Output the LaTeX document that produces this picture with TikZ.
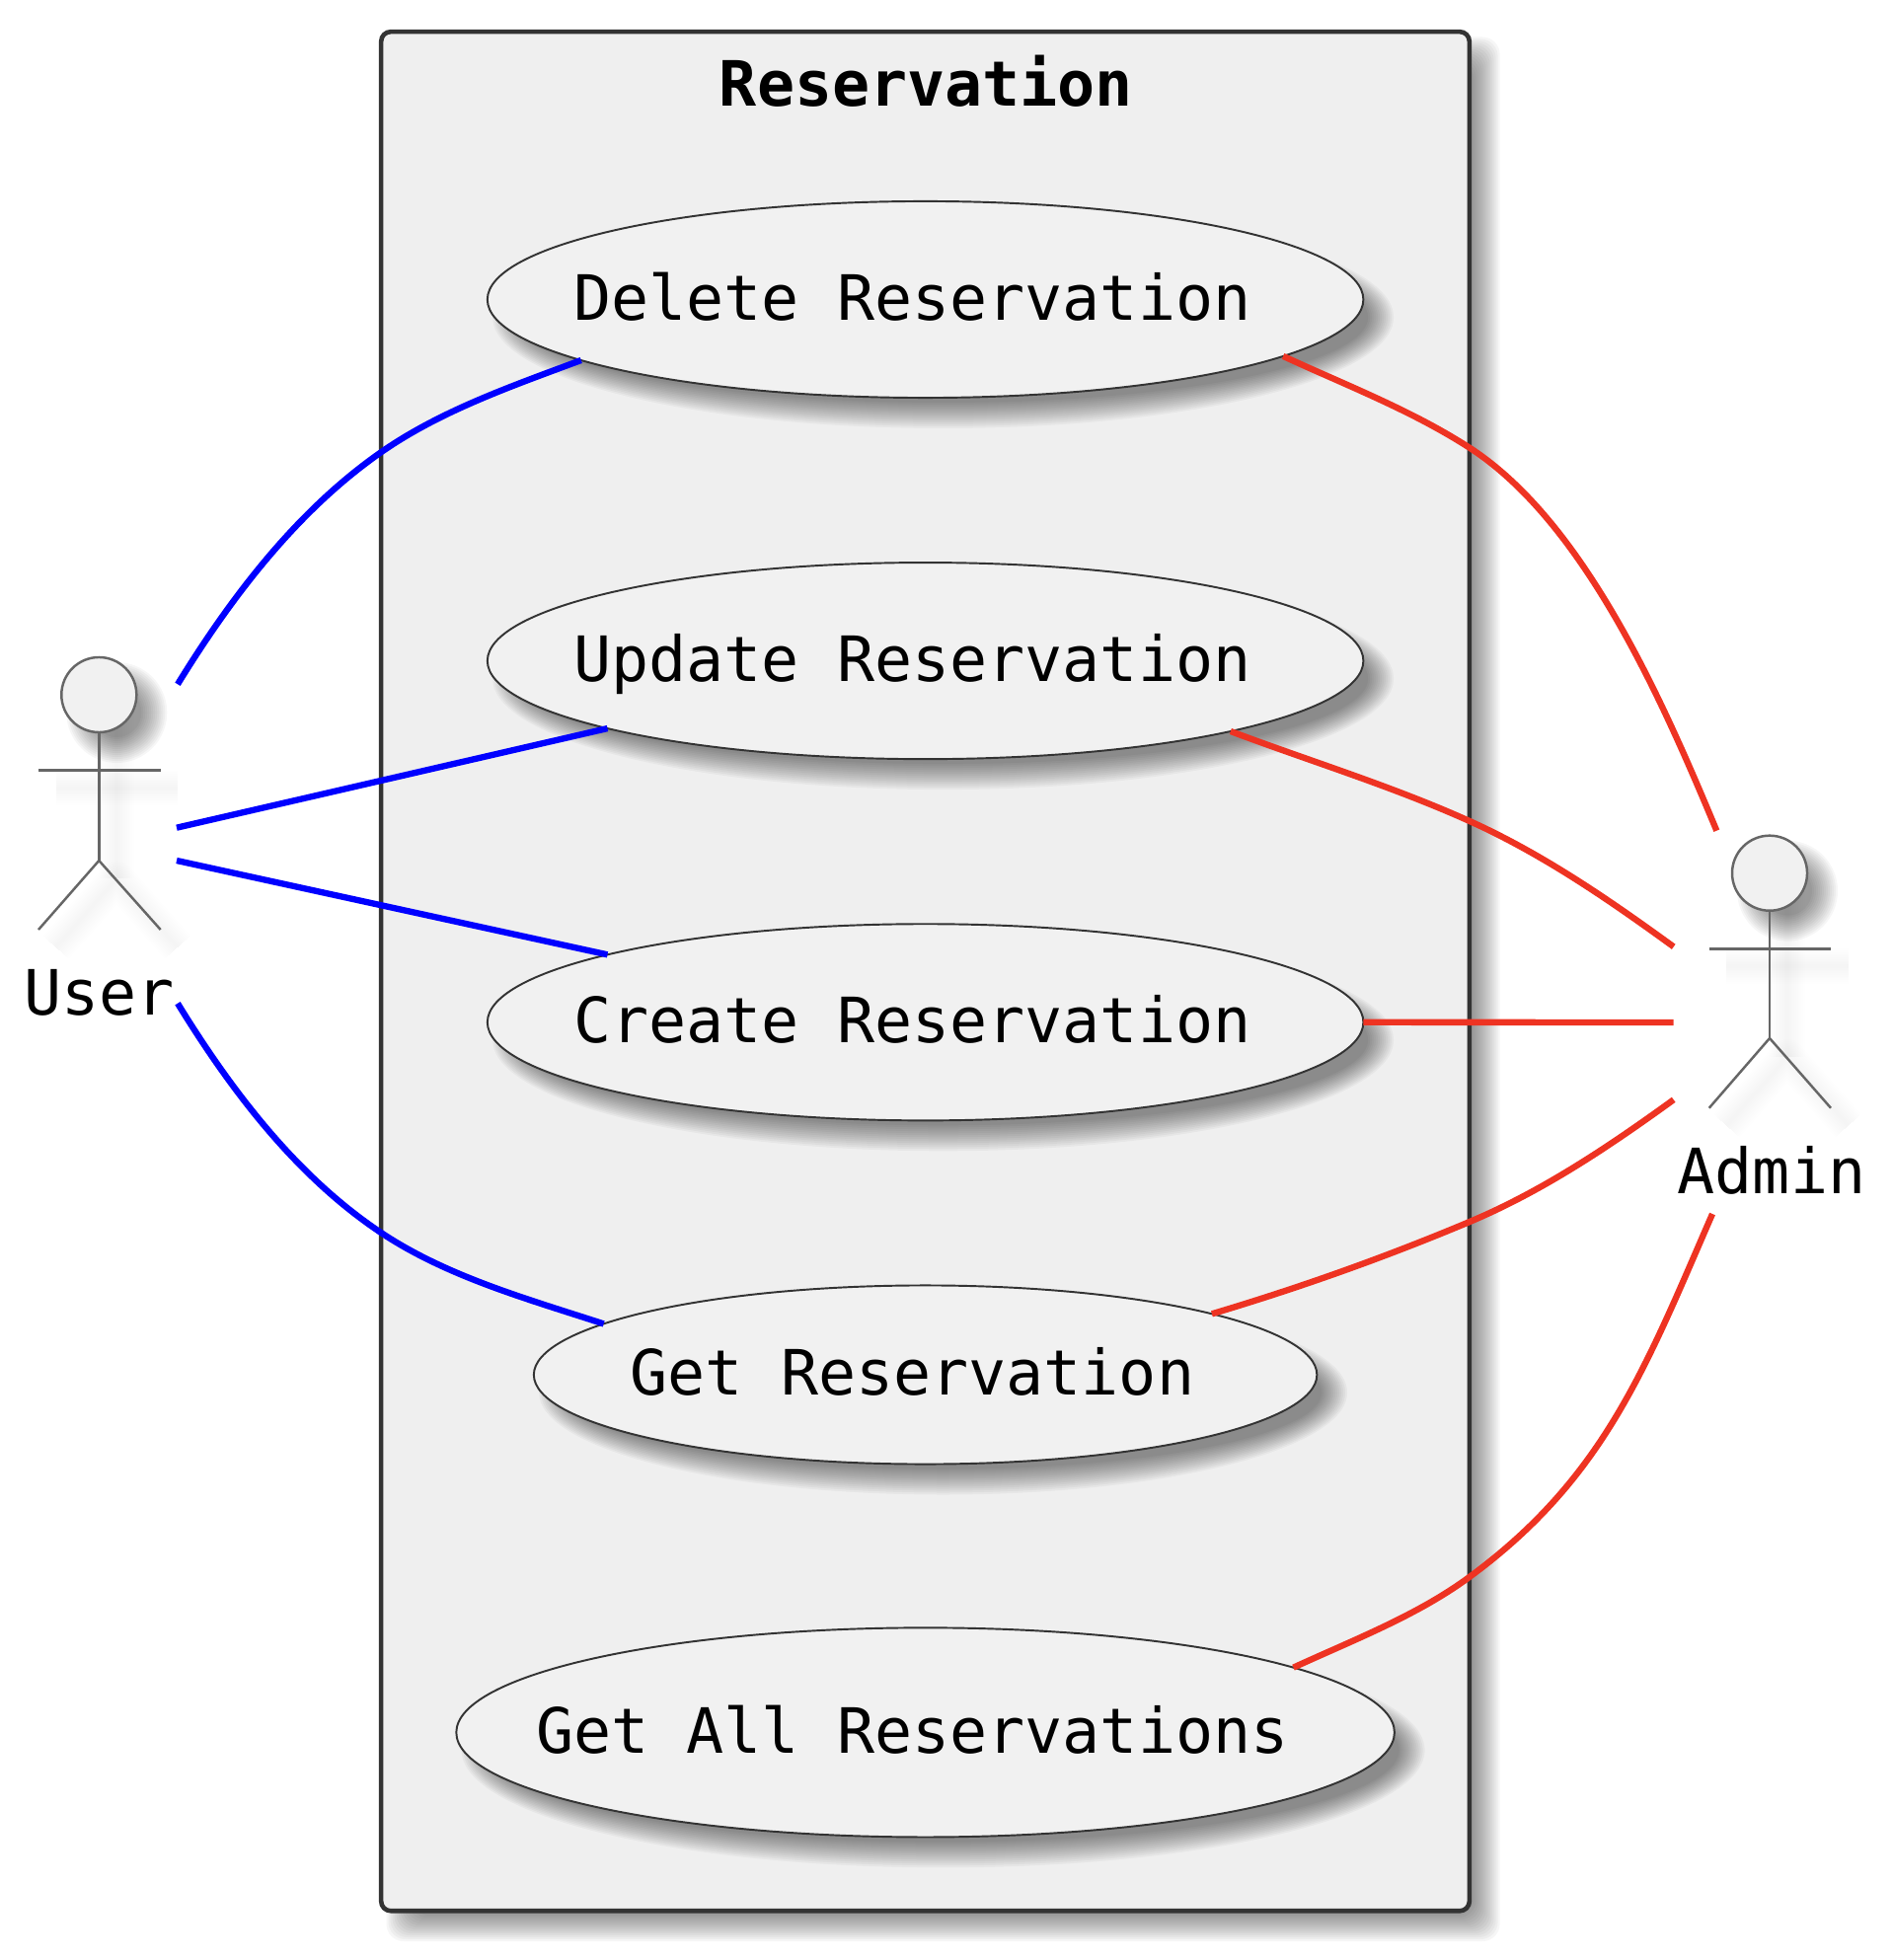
\documentclass[tikz,border=0pt]{standalone}
\usepackage{fontspec}
\usepackage{tikz}
\usetikzlibrary{shapes.geometric}
\setmonofont{DejaVu Sans Mono}
\definecolor{boxfill}{HTML}{EFEFEF}
\definecolor{casefill}{HTML}{F1F1F1}
\definecolor{boxline}{HTML}{333333}
\definecolor{actorgray}{HTML}{666666}
\definecolor{linkred}{HTML}{EE3322}
\tikzset{softfill/.style={black,fill opacity=0.036},softline/.style={black,draw opacity=0.005,line join=round}}
\newcommand{\caselabel}[1]{\raisebox{-5.9pt}[0pt][0pt]{\makebox[0pt]{#1\kern7.5pt}}}
\newcommand{\ellshade}[4]{\foreach \d in {-13,-11,...,13}{\fill[softfill] (#1+18,#2+18) ellipse ({(#3+\d)*0.01cm} and {(#4+\d)*0.01cm});}}
\begin{document}
\begin{tikzpicture}[x=0.01cm,y=-0.01cm,
    sysbox/.style={draw=boxline,fill=boxfill,line width=1.3pt,rounded corners=2.8pt,minimum width=11.02cm,minimum height=19.03cm,inner sep=0pt,outer sep=0pt},
    ucase/.style={draw=boxline,fill=casefill,line width=0.55pt,ellipse,inner sep=0pt,outer sep=0pt,font=\ttfamily\fontsize{18}{20}\selectfont},
    actorhead/.style={draw=actorgray,fill=casefill,line width=0.7pt,circle,minimum size=0.76cm,inner sep=0pt,outer sep=0pt},
    actorline/.style={draw=actorgray,line width=0.7pt},
    actorlabel/.style={anchor=base,font=\ttfamily\fontsize{18}{20}\selectfont},
    userlink/.style={draw=blue,line width=1.8pt},
    adminlink/.style={draw=linkred,line width=1.8pt}]
    \useasboundingbox (0,0) rectangle (1916,1986);

    \foreach \d in {-13,-11,...,13}{\fill[softfill,rounded corners=5pt] (404.5-\d,50.5-\d) rectangle (1506.6+\d,1954+\d);}
    \node[sysbox] (system) at (937.5,984.2) {};
    \node[anchor=base,font=\ttfamily\bfseries\fontsize{18}{20}\selectfont] (title) at (938.5,107.7) {Reservation};

    \ellshade{937.6}{303.5}{443.5}{99.5}
    \ellshade{937.6}{669.6}{443.5}{99.5}
    \ellshade{937.6}{1035.8}{443.5}{99.5}
    \ellshade{937.6}{1393}{396.5}{90.5}
    \ellshade{937.6}{1755.4}{475}{106}
    \node[ucase,minimum width=8.87cm,minimum height=1.99cm] (delete) at (937.6,303.5) {\caselabel{Delete Reservation}};
    \node[ucase,minimum width=8.87cm,minimum height=1.99cm] (update) at (937.6,669.6) {\caselabel{Update Reservation}};
    \node[ucase,minimum width=8.87cm,minimum height=1.99cm] (create) at (937.6,1035.8) {\caselabel{Create Reservation}};
    \node[ucase,minimum width=7.93cm,minimum height=1.81cm] (getone) at (937.6,1393) {\caselabel{Get Reservation}};
    \node[ucase,minimum width=9.50cm,minimum height=2.12cm] (getall) at (937.6,1755.4) {\caselabel{Get All Reservations}};

    \foreach \ax/\ay in {100.3/704,1793/884.7}{
        \ellshade{\ax}{\ay}{38}{38}
        \foreach \w in {1,2,...,10}{
            \draw[softline,line width=\w pt] (\ax+18,\ay+18) -- (\ax+18,\ay+186);
            \draw[softline,line width=\w pt] (\ax-43.7,\ay+94.3) -- (\ax+79.7,\ay+94.3);
            \draw[softline,line width=\w pt] (\ax-43.7,\ay+256) -- (\ax+18,\ay+186) -- (\ax+79.7,\ay+256);
        }
    }

    \node[actorhead] (userhead) at (100.3,704) {};
    \coordinate (userhip) at (100.3,872);
    \draw[actorline] (userhead) -- (userhip);
    \draw[actorline] (39,780.3) -- (162.7,780.3);
    \draw[actorline] (39,942) -- (userhip) -- (162.7,942);
    \node[actorlabel] (user) at (100.8,1028) {User};

    \node[actorhead] (adminhead) at (1793,884.7) {};
    \coordinate (adminhip) at (1793,1052);
    \draw[actorline] (adminhead) -- (adminhip);
    \draw[actorline] (1731.7,961.3) -- (1855,961.3);
    \draw[actorline] (1731.7,1122.7) -- (adminhip) -- (1855,1122.7);
    \node[actorlabel] (admin) at (1795,1209.3) {Admin};

    \coordinate (ua) at (180,693.3);
    \coordinate (ub) at (179,838.7);
    \coordinate (uc) at (179,872);
    \coordinate (ud) at (180,1016.7);
    \coordinate (aa) at (1739.3,841.7);
    \coordinate (ab) at (1695.7,959.3);
    \coordinate (ac) at (1695.7,1036);
    \coordinate (ad) at (1695.7,1114.3);
    \coordinate (ae) at (1735,1230);

    \draw[userlink] (ua) .. controls (234.5,604.7) and (300.7,517.8) .. (386,458.3) .. controls (446.7,416) and (518.5,391.3) .. (delete.-170.8);
    \draw[userlink] (ub) -- (update.-168.2);
    \draw[userlink] (uc) -- (create.168.9);
    \draw[userlink] (ud) .. controls (234,1104.5) and (299.5,1191) .. (385,1248.3) .. controls (451.4,1292.8) and (530.7,1315.1) .. (getone.171.5);

    \draw[adminlink] (delete.-9.38) .. controls (1364.4,390.6) and (1429.5,415.5) .. (1488.3,453.3) .. controls (1605.9,528.9) and (1685.4,712.5) .. (aa);
    \draw[adminlink] (update.-13.7) .. controls (1327.8,771.4) and (1410.8,796.8) .. (1488.3,831.7) .. controls (1562.2,864.9) and (1630,911.5) .. (ab);
    \draw[adminlink] (create.east) -- (ac);
    \draw[adminlink] (getone.12.12) .. controls (1317.3,1304.6) and (1403.7,1273.8) .. (1488.3,1238.3) .. controls (1562.8,1207) and (1630.1,1161.8) .. (ad);
    \draw[adminlink] (getall.10.53) .. controls (1371.4,1661.6) and (1435.1,1637.3) .. (1488.3,1598.3) .. controls (1625.3,1497.8) and (1667,1386.4) .. (ae);
\end{tikzpicture}
\end{document}
